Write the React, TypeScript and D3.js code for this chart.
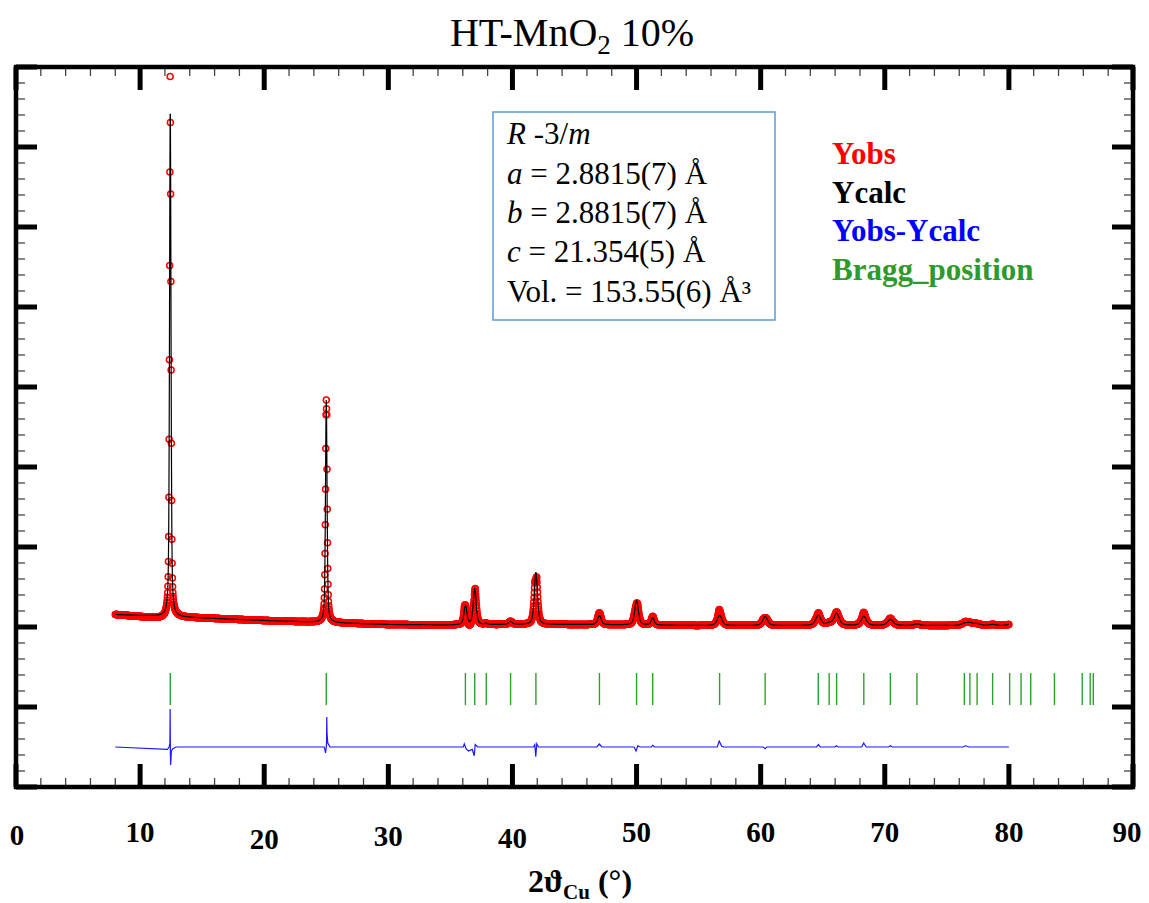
import React from "react";
import * as d3 from "d3";

// ---------- data ----------
// background of the calculated pattern (2θ, intensity)
const BG_TT = [8, 10, 12, 15, 20, 25, 30, 35, 40, 45, 50, 55, 60, 70, 80];
const BG_I = [2312, 2287, 2262, 2225, 2162, 2112, 2062, 2050, 2062, 2062, 2050, 2037, 2037, 2037, 2037];

// calculated reflections: position (2θ), height above background, FWHM (°)
const PEAK_POS = [12.43, 25.0, 36.21, 36.96, 37.89, 39.85, 41.89, 47.01, 50.0, 51.3, 56.69, 60.36, 64.64, 65.52, 66.12, 68.31, 70.45, 72.59, 76.41, 76.86, 77.44, 78.69, 80.06];
const PEAK_H = [12775, 5560, 475, 900, 25, 75, 1300, 225, 600, 175, 250, 225, 250, 50, 300, 225, 150, 40, 50, 60, 40, 25, 25];
const PEAK_W = [0.14, 0.15, 0.28, 0.28, 0.3, 0.35, 0.3, 0.35, 0.35, 0.3, 0.45, 0.45, 0.5, 0.5, 0.5, 0.5, 0.55, 0.55, 0.6, 0.6, 0.6, 0.6, 0.6];

// Yobs - Ycalc (2θ, difference)
const DIFF_TT = [8, 12.2, 12.34, 12.4, 12.42, 12.44, 12.46, 12.52, 12.64, 12.9, 24.84, 24.94, 25.0, 25.02, 25.04, 25.06, 25.12, 25.3, 36.04, 36.12, 36.26, 36.46, 36.76, 36.92, 37.0, 37.2, 41.7, 41.8, 41.88, 41.96, 42.1, 46.8, 47.0, 47.2, 49.8, 49.96, 50.1, 50.3, 51.2, 51.3, 51.46, 56.5, 56.66, 56.86, 57.0, 60.2, 60.36, 60.5, 64.5, 64.66, 64.8, 66.0, 66.1, 66.26, 68.14, 68.3, 68.5, 70.3, 70.46, 70.6, 76.3, 76.5, 76.8, 80];
const DIFF_V = [0, -60, 0, 100, 950, -200, -450, -100, -40, 0, 0, -150, 0, 100, 750, 350, 100, 0, 0, 80, -40, -100, -60, -220, 60, 0, 0, 60, -240, 80, 0, 0, 75, 0, 0, -100, 30, 0, 0, 40, 0, 0, 150, 20, 0, 0, -40, 0, 0, 60, 0, 0, 30, 0, 0, 100, 0, 0, 30, 0, 0, 30, 0, 0];
const DIFF_OFFSET = -1000;

// Bragg positions, R-3m
const BRAGG = [12.43, 25.0, 36.21, 36.96, 37.89, 39.85, 41.89, 47.01, 50.0, 51.3, 56.69, 60.36, 64.64, 65.52, 66.12, 68.31, 70.45, 72.59, 76.41, 76.86, 77.44, 78.69, 80.06, 80.98, 81.76, 83.67, 85.91, 86.55, 86.8];
const BRAGG_TOP = 850;
const BRAGG_BOTTOM = 50;

const X_TICKS = [0, 10, 20, 30, 40, 50, 60, 70, 80, 90];
const X_LABEL_DY = [3, 0, 7, 4, 6, 0, 0, 0, 0, 0];
const TT_START = 8;
const TT_END = 80;
const TT_STEP = 0.02;

const BOX_LINES = ["R -3/m", "a = 2.8815(7) Å", "b = 2.8815(7) Å", "c = 21.354(5) Å", "Vol. = 153.55(6) Å³"];
const LEGEND = [
  { label: "Yobs", color: "#ff0000" },
  { label: "Ycalc", color: "#000000" },
  { label: "Yobs-Ycalc", color: "#0000ff" },
  { label: "Bragg_position", color: "#2e9a2e" },
];

// ---------- helpers ----------
const SERIF = "'Liberation Serif', 'Times New Roman', serif";
const ETA = 0.5;
function pv(t: number, c: number, w: number) {
  const dx = (t - c) / w;
  const L = 1 / (1 + 4 * dx * dx);
  const G = Math.exp(-4 * Math.LN2 * dx * dx);
  return ETA * L + (1 - ETA) * G;
}
const bgScale = d3.scaleLinear().domain(BG_TT).range(BG_I);
const diffScale = d3.scaleLinear().domain(DIFF_TT).range(DIFF_V);
function calcAt(t: number) {
  let v = bgScale(t);
  for (let i = 0; i < PEAK_POS.length; i++) v += PEAK_H[i] * pv(t, PEAK_POS[i], PEAK_W[i]);
  return v;
}

export default function App() {
  const W = 1149;
  const H = 903;
  const x = d3.scaleLinear().domain([0, 90]).range([16, 1133]);
  const y = d3.scaleLinear().domain([-2000, 16000]).range([787, 67]);

  const n = Math.round((TT_END - TT_START) / TT_STEP);
  const tts = d3.range(0, n + 1).map((i) => TT_START + i * TT_STEP);
  const calc = tts.map((t) => [t, calcAt(t)] as [number, number]);
  const obs = tts.map((t) => [t, calcAt(t) + diffScale(t)] as [number, number]);

  const line = d3
    .line<[number, number]>()
    .x((d) => x(d[0]))
    .y((d) => y(d[1]));
  const calcPath = line(calc) || "";
  const diffPath = line(DIFF_TT.map((t, i) => [t, DIFF_OFFSET + DIFF_V[i]] as [number, number])) || "";

  const xMinor = d3.range(0, 90.001, 2);
  const yMajor = d3.range(-2000, 16000.1, 2000);
  const yMinor = d3.range(-2000, 16000.1, 400);
  const x0 = x(0), x1 = x(90), y0 = y(-2000), y1 = y(16000);

  return (
    <svg width={W} height={H} style={{ position: "absolute", left: 0, top: 0, background: "#fff" }}>
      <rect x={0} y={0} width={W} height={H} fill="#fff" />
      {/* title */}
      <text x={572} y={46} textAnchor="middle" fontFamily={SERIF} fontSize={40} fill="#000">
        HT-MnO<tspan fontSize={27} dy={8}>2</tspan>
        <tspan dy={-8}> 10%</tspan>
      </text>

      {/* observed points */}
      <g fill="none" stroke="#ff0000" strokeWidth={1.5}>
        {obs.map((d, i) => (
          <circle key={i} cx={x(d[0])} cy={y(d[1])} r={3} />
        ))}
      </g>
      {/* calc */}
      <path d={calcPath} fill="none" stroke="#000" strokeWidth={1.2} />
      {/* diff */}
      <path d={diffPath} fill="none" stroke="#1a1aff" strokeWidth={1.2} />
      {/* bragg */}
      <g stroke="#2ca02c" strokeWidth={1.4}>
        {BRAGG.map((b, i) => (
          <line key={i} x1={x(b)} x2={x(b)} y1={y(BRAGG_TOP)} y2={y(BRAGG_BOTTOM)} />
        ))}
      </g>

      {/* ticks */}
      <g stroke="#444" strokeWidth={1.3}>
        {xMinor.map((t, i) => (
          <g key={i}>
            <line x1={x(t)} x2={x(t)} y1={y0} y2={y0 - 9} />
            <line x1={x(t)} x2={x(t)} y1={y1} y2={y1 + 9} />
          </g>
        ))}
        {yMinor.map((v, i) => (
          <g key={i}>
            <line x1={x0} x2={x0 + 9} y1={y(v)} y2={y(v)} />
            <line x1={x1} x2={x1 - 9} y1={y(v)} y2={y(v)} />
          </g>
        ))}
      </g>
      <g stroke="#000" strokeWidth={5}>
        {X_TICKS.map((t, i) => (
          <g key={i}>
            <line x1={x(t)} x2={x(t)} y1={y0} y2={y0 - 23} />
            <line x1={x(t)} x2={x(t)} y1={y1} y2={y1 + 23} />
          </g>
        ))}
        {yMajor.map((v, i) => (
          <g key={i}>
            <line x1={x0} x2={x0 + 21} y1={y(v)} y2={y(v)} />
            <line x1={x1} x2={x1 - 21} y1={y(v)} y2={y(v)} />
          </g>
        ))}
      </g>
      <rect x={x0} y={y1} width={x1 - x0} height={y0 - y1} fill="none" stroke="#000" strokeWidth={4.5} />

      {/* x tick labels */}
      {X_TICKS.map((t, i) => (
        <text key={i} x={Math.min(Math.max(x(t), 17), 1127)} y={842 + X_LABEL_DY[i]} textAnchor="middle" fontFamily={SERIF} fontWeight="bold" fontSize={29} fill="#000">
          {t}
        </text>
      ))}
      {/* x title */}
      <text x={580} y={892} textAnchor="middle" fontFamily={SERIF} fontWeight="bold" fontSize={32} fill="#000">
        2ϑ<tspan fontSize={21} dy={7}>Cu</tspan>
        <tspan dy={-7}> (°)</tspan>
      </text>

      {/* info box */}
      <rect x={493} y={112} width={282} height={208} fill="#fff" stroke="#5b9bd5" strokeWidth={1.5} />
      <g fontFamily={SERIF} fontSize={31} fill="#000">
        <text x={507} y={144}>
          <tspan fontStyle="italic">R</tspan> -3/<tspan fontStyle="italic">m</tspan>
        </text>
        <text x={507} y={184}>
          <tspan fontStyle="italic">a</tspan>{BOX_LINES[1].slice(1)}
        </text>
        <text x={507} y={223}>
          <tspan fontStyle="italic">b</tspan>{BOX_LINES[2].slice(1)}
        </text>
        <text x={507} y={262}>
          <tspan fontStyle="italic">c</tspan>{BOX_LINES[3].slice(1)}
        </text>
        <text x={507} y={302}>{BOX_LINES[4]}</text>
      </g>

      {/* legend */}
      <g fontFamily={SERIF} fontWeight="bold" fontSize={31}>
        {LEGEND.map((l, i) => (
          <text key={i} x={832} y={164 + i * 38.5} fill={l.color}>
            {l.label}
          </text>
        ))}
      </g>
    </svg>
  );
}
